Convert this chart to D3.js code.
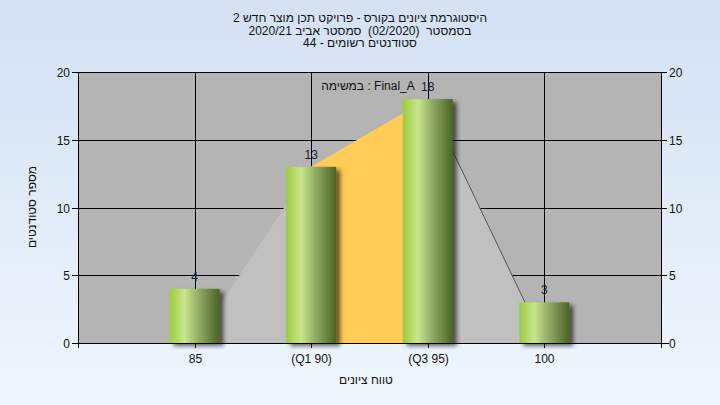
<!DOCTYPE html>
<html><head><meta charset="utf-8">
<script src="https://cdn.jsdelivr.net/npm/d3@7"></script>
<style>html,body{margin:0;padding:0;}svg{display:block;font-family:"Liberation Sans",Arial,"DejaVu Sans",sans-serif;}text{white-space:pre;}</style>
</head><body>
<script>
const categories = ["85", "(Q1 90)", "(Q3 95)", "100"];
const counts = [4, 13, 18, 3];
const curveValues = [0, 13, 18, 0];
const yTicks = [0, 5, 10, 15, 20];
const titleLines = ["היסטוגרמת ציונים בקורס - פרויקט תכן מוצר חדש 2", "בסמסטר  (02/2020)  סמסטר אביב 2020/21", "סטודנטים רשומים - 44"];
const xTitle = "טווח ציונים";
const yTitle = "מספר סטודנטים";
const taskLabel = "Final_A : במשימה";

const W = 720, H = 405;
const m = {left: 78, right: 661, top: 72, bottom: 343};
const svg = d3.select("body").append("svg").attr("width", W).attr("height", H);
const defs = svg.append("defs");
const bg = defs.append("linearGradient").attr("id", "bg").attr("x1", 0).attr("y1", 0).attr("x2", 0).attr("y2", 1);
bg.append("stop").attr("offset", 0).attr("stop-color", "#d3e1f3");
bg.append("stop").attr("offset", 1).attr("stop-color", "#eff6fd");
const bar = defs.append("linearGradient").attr("id", "bar").attr("x1", 0).attr("y1", 0).attr("x2", 1).attr("y2", 0);
[[0, "#9ccb3c"], [0.3, "#c8e68c"], [0.6, "#8fa862"], [1, "#4a6422"]].forEach(([o, c]) => bar.append("stop").attr("offset", o).attr("stop-color", c));
const sh = defs.append("filter").attr("id", "sh").attr("x", "-20%").attr("y", "-20%").attr("width", "150%").attr("height", "150%");
sh.append("feDropShadow").attr("dx", 4).attr("dy", 3).attr("stdDeviation", 2).attr("flood-color", "#000").attr("flood-opacity", 0.6);

svg.append("rect").attr("width", W).attr("height", H).attr("fill", "url(#bg)");

const x = d3.scalePoint().domain(categories).range([m.left, m.right]).padding(1);
const y = d3.scaleLinear().domain([0, 20]).range([m.bottom, m.top]);

svg.append("rect").attr("x", m.left).attr("y", m.top).attr("width", m.right - m.left).attr("height", m.bottom - m.top).attr("fill", "#b4b4b4");

// grid
const g = svg.append("g").attr("stroke", "#000").attr("stroke-width", 1);
yTicks.slice(1).forEach(t => g.append("line").attr("x1", m.left).attr("x2", m.right).attr("y1", Math.round(y(t)) + 0.5).attr("y2", Math.round(y(t)) + 0.5));
categories.forEach(c => g.append("line").attr("x1", Math.round(x(c)) + 0.5).attr("x2", Math.round(x(c)) + 0.5).attr("y1", m.top).attr("y2", m.bottom));

// area
const pts = categories.map((c, i) => [x(c), y(curveValues[i])]);
const area = d3.area().x(d => d[0]).y0(y(0)).y1(d => d[1]);
svg.append("path").attr("d", area(pts)).attr("fill", "#c0c0c0");
svg.append("path").attr("d", area(pts.slice(1, 3))).attr("fill", "#ffcc55");
svg.append("path").attr("d", d3.line()(pts.slice(2, 4))).attr("stroke", "#555").attr("stroke-width", 1).attr("fill", "none");

// bars
const bw = 50;
svg.append("g").selectAll("rect").data(counts).join("rect")
  .attr("x", (d, i) => x(categories[i]) - bw / 2).attr("y", d => y(d))
  .attr("width", bw).attr("height", d => y(0) - y(d))
  .attr("fill", "url(#bar)").attr("filter", "url(#sh)");

// value labels
svg.append("g").selectAll("text").data(counts).join("text")
  .attr("x", (d, i) => x(categories[i])).attr("y", d => y(d) - 8)
  .attr("text-anchor", "middle").attr("font-size", 12).attr("fill", "#1a1a2a").text(d => d);

// axes
const ax = svg.append("g").attr("font-size", 12).attr("fill", "#111");
const axis = svg.append("g").attr("stroke", "#000");
axis.append("line").attr("x1", m.left + 0.5).attr("x2", m.left + 0.5).attr("y1", m.top).attr("y2", m.bottom + 5);
axis.append("line").attr("x1", m.right + 0.5).attr("x2", m.right + 0.5).attr("y1", m.top).attr("y2", m.bottom + 5);
axis.append("line").attr("x1", m.left - 5).attr("x2", m.right + 8).attr("y1", m.bottom + 0.5).attr("y2", m.bottom + 0.5);
yTicks.forEach(t => {
  const yy = Math.round(y(t)) + 0.5;
  axis.append("line").attr("x1", m.left - 6).attr("x2", m.left).attr("y1", yy).attr("y2", yy);
  axis.append("line").attr("x1", m.right).attr("x2", m.right + 6).attr("y1", yy).attr("y2", yy);
  ax.append("text").attr("x", m.left - 8).attr("y", yy + 4.5).attr("text-anchor", "end").text(t);
  ax.append("text").attr("x", m.right + 8).attr("y", yy + 4.5).attr("text-anchor", "start").text(t);
});
categories.forEach(c => {
  const xx = Math.round(x(c)) + 0.5;
  axis.append("line").attr("x1", xx).attr("x2", xx).attr("y1", m.bottom).attr("y2", m.bottom + 5);
  ax.append("text").attr("x", xx).attr("y", 363).attr("text-anchor", "middle").text(c);
});

// titles
svg.append("g").selectAll("text").data(titleLines).join("text")
  .attr("x", 360).attr("y", (d, i) => 22 + i * 12.5).attr("text-anchor", "middle")
  .attr("font-size", 12).attr("fill", "#111").text(d => d);
svg.append("text").attr("x", 368).attr("y", 90).attr("text-anchor", "middle").attr("font-size", 12).attr("fill", "#111").attr("direction", "rtl").text(taskLabel);
svg.append("text").attr("x", 366).attr("y", 384).attr("text-anchor", "middle").attr("font-size", 12).attr("fill", "#111").text(xTitle);
svg.append("text").attr("transform", "translate(36,207) rotate(-90)").attr("text-anchor", "middle").attr("font-size", 12).attr("fill", "#111").text(yTitle);
</script>
</body></html>
